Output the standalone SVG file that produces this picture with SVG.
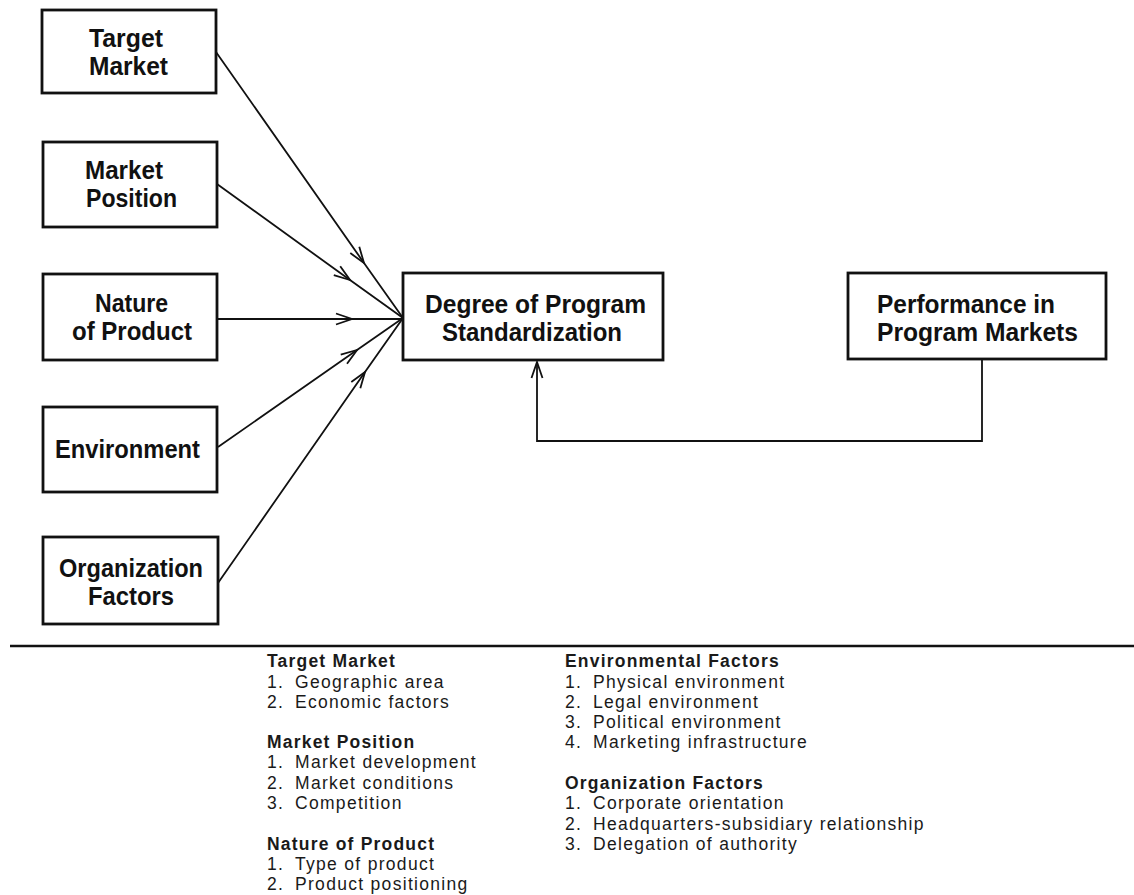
<svg xmlns="http://www.w3.org/2000/svg" width="1134" height="895" viewBox="0 0 1134 895">
<style>
.box{fill:#fff;stroke:#111;stroke-width:2.8}
.lbl{font-family:"Liberation Sans",Arial,sans-serif;font-weight:bold;font-size:25px;fill:#111}
.con{fill:none;stroke:#111;stroke-width:1.8}
.hd{font-family:"Liberation Sans",Arial,sans-serif;font-weight:bold;font-size:17.5px;letter-spacing:1.2px;fill:#1a1a1a}
.it{font-family:"Liberation Sans",Arial,sans-serif;font-size:17.5px;letter-spacing:1.3px;fill:#1a1a1a}
</style>
<defs>
<marker id="ah" viewBox="-18 -8 20 16" markerWidth="20" markerHeight="16" refX="0" refY="0" orient="auto" markerUnits="userSpaceOnUse">
<path d="M-16,-5.5 L0,0 L-16,5.5" fill="none" stroke="#111" stroke-width="1.8"/>
</marker>
</defs>
<rect width="1134" height="895" fill="#fff"/>

<g id="connectors">
<polyline class="con" points="216,52 364,263 403,318" marker-mid="url(#ah)"/>
<polyline class="con" points="217,184 350,280 403,318" marker-mid="url(#ah)"/>
<polyline class="con" points="217,319 352,319 403,319" marker-mid="url(#ah)"/>
<polyline class="con" points="218,447 357,350 403,318" marker-mid="url(#ah)"/>
<polyline class="con" points="218,583 365,372 403,318" marker-mid="url(#ah)"/>
<polyline class="con" points="982,359 982,441 537,441 537,362" marker-end="url(#ah)"/>
</g>

<g id="target-market">
<rect class="box" x="42" y="10" width="174" height="83"/>
<text class="lbl" x="89" y="47" textLength="74" lengthAdjust="spacingAndGlyphs">Target</text>
<text class="lbl" x="89" y="75" textLength="79" lengthAdjust="spacingAndGlyphs">Market</text>
</g>
<g id="market-position">
<rect class="box" x="43" y="142" width="174" height="85"/>
<text class="lbl" x="85" y="179" textLength="78" lengthAdjust="spacingAndGlyphs">Market</text>
<text class="lbl" x="86" y="207" textLength="91" lengthAdjust="spacingAndGlyphs">Position</text>
</g>
<g id="nature-of-product">
<rect class="box" x="43" y="274" width="174" height="86"/>
<text class="lbl" x="95" y="312" textLength="73" lengthAdjust="spacingAndGlyphs">Nature</text>
<text class="lbl" x="72" y="340" textLength="120" lengthAdjust="spacingAndGlyphs">of Product</text>
</g>
<g id="environment">
<rect class="box" x="43" y="407" width="174" height="85"/>
<text class="lbl" x="55" y="458" textLength="145" lengthAdjust="spacingAndGlyphs">Environment</text>
</g>
<g id="organization-factors">
<rect class="box" x="43" y="537" width="175" height="87"/>
<text class="lbl" x="59" y="577" textLength="144" lengthAdjust="spacingAndGlyphs">Organization</text>
<text class="lbl" x="88" y="605" textLength="86" lengthAdjust="spacingAndGlyphs">Factors</text>
</g>
<g id="degree-of-standardization">
<rect class="box" x="403" y="273" width="260" height="87"/>
<text class="lbl" x="425" y="313" textLength="221" lengthAdjust="spacingAndGlyphs">Degree of Program</text>
<text class="lbl" x="442" y="341" textLength="180" lengthAdjust="spacingAndGlyphs">Standardization</text>
</g>
<g id="performance">
<rect class="box" x="848" y="273" width="258" height="86"/>
<text class="lbl" x="877" y="313" textLength="178" lengthAdjust="spacingAndGlyphs">Performance in</text>
<text class="lbl" x="877" y="341" textLength="201" lengthAdjust="spacingAndGlyphs">Program Markets</text>
</g>

<line x1="10" y1="646" x2="1134" y2="646" stroke="#111" stroke-width="2.5"/>

<g id="legend-left">
<text class="hd" x="267" y="667">Target Market</text>
<text class="it" x="267" y="688">1.</text><text class="it" x="295" y="688">Geographic area</text>
<text class="it" x="267" y="708">2.</text><text class="it" x="295" y="708">Economic factors</text>
<text class="hd" x="267" y="748">Market Position</text>
<text class="it" x="267" y="768">1.</text><text class="it" x="295" y="768">Market development</text>
<text class="it" x="267" y="789">2.</text><text class="it" x="295" y="789">Market conditions</text>
<text class="it" x="267" y="809">3.</text><text class="it" x="295" y="809">Competition</text>
<text class="hd" x="267" y="850">Nature of Product</text>
<text class="it" x="267" y="870">1.</text><text class="it" x="295" y="870">Type of product</text>
<text class="it" x="267" y="890">2.</text><text class="it" x="295" y="890">Product positioning</text>
</g>
<g id="legend-right">
<text class="hd" x="565" y="667">Environmental Factors</text>
<text class="it" x="565" y="688">1.</text><text class="it" x="593" y="688">Physical environment</text>
<text class="it" x="565" y="708">2.</text><text class="it" x="593" y="708">Legal environment</text>
<text class="it" x="565" y="728">3.</text><text class="it" x="593" y="728">Political environment</text>
<text class="it" x="565" y="748">4.</text><text class="it" x="593" y="748">Marketing infrastructure</text>
<text class="hd" x="565" y="789">Organization Factors</text>
<text class="it" x="565" y="809">1.</text><text class="it" x="593" y="809">Corporate orientation</text>
<text class="it" x="565" y="830">2.</text><text class="it" x="593" y="830">Headquarters-subsidiary relationship</text>
<text class="it" x="565" y="850">3.</text><text class="it" x="593" y="850">Delegation of authority</text>
</g>
</svg>
